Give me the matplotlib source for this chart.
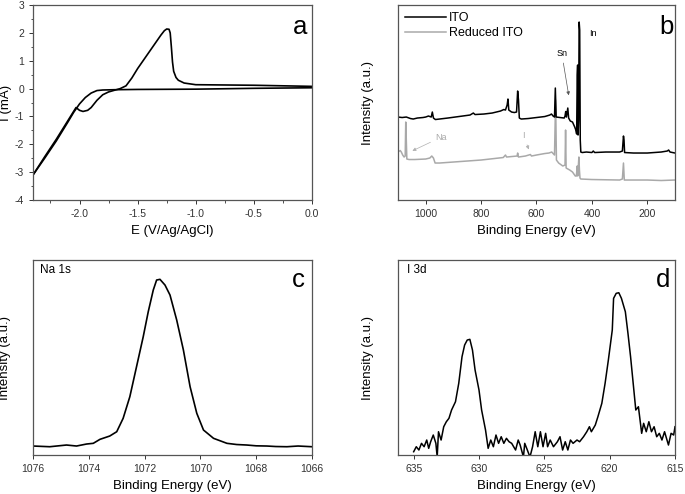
import numpy as np
import matplotlib.pyplot as plt
from matplotlib.ticker import MultipleLocator

plt.rcParams['font.family'] = ['Liberation Sans', 'DejaVu Sans']
plt.rcParams['axes.unicode_minus'] = False

# (a) cyclic voltammogram: cathodic sweep and return sweep
cv_fwd_E = [0.0, -0.5, -1.0, -1.5, -1.7, -1.8, -1.85, -1.9, -1.95, -2.0, -2.05, -2.1, -2.2, -2.3, -2.4]
cv_fwd_I = [0.03, 0.01, -0.02, -0.03, -0.04, -0.05, -0.07, -0.16, -0.32, -0.55, -0.85, -1.2, -1.88, -2.5, -3.1]
cv_ret_E = [-2.4, -2.3, -2.2, -2.1, -2.03, -2.0, -1.97, -1.93, -1.9, -1.85, -1.8, -1.75, -1.7, -1.65,
            -1.6, -1.55, -1.5, -1.45, -1.4, -1.35, -1.3, -1.27, -1.25, -1.23, -1.22, -1.21, -1.2, -1.19,
            -1.17, -1.15, -1.1, -1.0, -0.5, 0.0]
cv_ret_I = [-3.1, -2.45, -1.82, -1.15, -0.68, -0.78, -0.82, -0.78, -0.68, -0.42, -0.22, -0.12, -0.06, 0.0,
            0.1, 0.38, 0.72, 1.02, 1.32, 1.62, 1.92, 2.08, 2.14, 2.13, 2.0, 1.5, 0.95, 0.62,
            0.4, 0.3, 0.2, 0.14, 0.12, 0.08]

# (b) XPS survey spectra
ito_be = [1100, 1085, 1070, 1055, 1045, 1030, 1010, 1000, 990, 980, 976, 972, 965, 950, 920, 880, 840,
          828, 822, 790, 760, 730, 718, 712, 706, 703, 700, 690, 680, 672, 668, 665, 662, 655, 630, 600,
          570, 552, 546, 540, 535, 532, 529, 515, 500, 497, 494.5, 492, 487, 484, 478, 470, 462, 458,
          455, 453, 451.5, 450, 448, 446, 444, 442, 440, 435, 420, 400, 395, 390, 350, 300, 290, 286,
          284, 282, 250, 200, 150, 128, 123, 118, 100]
ito_int = [83, 82.5, 83, 81.5, 81, 82, 82.5, 83, 84, 83, 88, 82, 80.5, 81, 82, 83.5, 85,
           87, 85.5, 86, 87, 89, 90.5, 90, 95, 101, 90, 88, 87.5, 88, 109, 100, 82, 81, 81.5, 82.5,
           83.5, 85, 86, 84, 83, 112, 83, 82.5, 82, 84, 88.5, 83, 92, 82, 79, 78, 73, 70,
           66, 125, 135, 65, 80, 178, 170, 60, 48, 47.5, 48, 47.5, 49, 47.5, 48, 48, 49, 64,
           60, 47.5, 47, 47, 48, 49, 50, 48, 47]
red_be = [1100, 1092, 1088, 1083, 1078, 1074, 1072, 1070, 1068, 1060, 1040, 1000, 985, 978, 972, 966,
          950, 900, 800, 720, 712, 708, 670, 668, 665, 640, 622, 618, 600, 570, 555, 545, 535, 531,
          528, 520, 505, 497, 495, 493, 480, 470, 460, 456, 453, 451, 447, 445, 443, 440, 400, 300,
          290, 286, 283, 200, 150, 100]
red_int = [48, 49.5, 48, 45, 43, 44, 78, 60, 41, 40.5, 40.5, 41, 42, 44, 42, 37,
           37, 38, 40, 42.5, 45, 43, 44, 47, 43, 44, 45.5, 44, 45, 46.5, 47, 48, 45, 100,
           40, 37, 34, 35, 70, 32, 30, 28, 24, 24, 34, 24, 43, 30, 22, 21, 20.5, 20,
           21, 37, 20, 20, 19.5, 20]

# (c) Na 1s
na_be = [1076, 1075.4, 1074.8, 1074.44, 1074.08, 1073.84, 1073.6, 1073.25, 1073.0, 1072.77, 1072.53,
         1072.29, 1072.05, 1071.87, 1071.69, 1071.57, 1071.45, 1071.27, 1071.09, 1070.85, 1070.61,
         1070.37, 1070.13, 1069.89, 1069.53, 1069.05, 1068.7, 1068.34, 1068.0, 1067.62, 1067.3,
         1066.9, 1066.5, 1066]
na_int = [9, 8.3, 10, 9, 11, 11.7, 15.7, 19, 23.3, 36.7, 58.3,
          88.3, 118.3, 143.3, 165, 175, 175.7, 170, 160, 135, 105,
          68.3, 41.7, 25, 16.7, 11.7, 10.5, 10, 9.2, 9, 8.5,
          8.3, 9, 8.3]

# (d) I 3d
i_be = [635.0, 634.8, 634.6, 634.4, 634.2, 634.0, 633.85, 633.7, 633.5, 633.3, 633.2, 633.1, 632.9,
        632.7, 632.5, 632.3, 632.1, 631.8, 631.55, 631.3, 631.1, 630.9, 630.7, 630.5, 630.3, 630.0,
        629.8, 629.5, 629.3, 629.1, 628.9, 628.7, 628.5, 628.3, 628.1, 627.9, 627.7, 627.5, 627.2,
        627.0, 626.85, 626.6, 626.5, 626.3, 626.1, 625.9, 625.7, 625.5, 625.3, 625.1, 624.9, 624.75,
        624.55, 624.3, 624.0, 623.8, 623.6, 623.4, 623.2, 623.0, 622.8, 622.5, 622.3, 622.0, 621.75,
        621.55, 621.4, 621.1, 620.9, 620.6, 620.35, 620.1, 619.8, 619.7, 619.5, 619.3, 619.1, 618.8,
        618.6, 618.4, 618.2, 618.0, 617.8, 617.55, 617.4, 617.2, 617.0, 616.8, 616.6, 616.4, 616.2,
        616.0, 615.8, 615.5, 615.3, 615.1, 615.0]
i_int = [3.3, 8.3, 5, 11.7, 8.3, 15, 6.7, 13.3, 20, 11.7, -2, 23.3, 15,
         28.3, 33.3, 36.7, 45, 53.3, 71.7, 98.3, 110, 115, 115.7, 105, 85, 65,
         45, 25, 6.7, 15, 8.3, 20, 11.7, 18.3, 11.7, 16.7, 13.3, 11.7, 5,
         15, 10, -2, 11.7, 5, -2, 8.3, 23.3, 8.3, 23.3, 8.3, 21.7, 8.3,
         15, 8.3, 13.3, 18.3, 5, 13.3, 5, 15, 11.7, 15, 13.3, 18.3, 23.3,
         28.3, 23.3, 30, 38.3, 51.7, 71.7, 95, 125, 156.7, 161.7, 162.3, 156.7, 143.3,
         121.7, 98.3, 71.7, 45, 48.3, 21.7, 31.7, 23.3, 33.3, 23.3, 28.3, 18.3, 21.7,
         15, 23.3, 10, 21.7, 20, 28.3]

fig = plt.figure(figsize=(6.85, 4.94), dpi=100)
ax_a = fig.add_axes([0.0482, 0.5951, 0.4073, 0.3947])
ax_b = fig.add_axes([0.581, 0.5951, 0.4044, 0.3947])
ax_c = fig.add_axes([0.0482, 0.0789, 0.4073, 0.3947])
ax_d = fig.add_axes([0.581, 0.0789, 0.4044, 0.3947])

for ax in (ax_a, ax_b, ax_c, ax_d):
    for s in ax.spines.values():
        s.set_color('#555555')
        s.set_linewidth(0.9)
    ax.tick_params(labelsize=7.5, direction='out', length=3, width=0.7, colors='#333333')
    ax.tick_params(which='minor', direction='out', length=1.8, width=0.6, colors='#333333')

lab = dict(fontsize=9.5)
letter = dict(fontsize=18.5, ha='center', va='center')

# (a)
ax_a.plot(cv_fwd_E, cv_fwd_I, color='black', lw=1.2)
ax_a.plot(cv_ret_E, cv_ret_I, color='black', lw=1.2)
ax_a.set_xlim(-2.4, 0.0)
ax_a.set_ylim(-4, 3)
ax_a.xaxis.set_major_locator(MultipleLocator(0.5))
ax_a.xaxis.set_minor_locator(MultipleLocator(0.25))
ax_a.yaxis.set_major_locator(MultipleLocator(1))
ax_a.yaxis.set_minor_locator(MultipleLocator(0.5))
ax_a.set_xlabel('E (V/Ag/AgCl)', **lab)
ax_a.set_ylabel('I (mA)', **lab)
ax_a.yaxis.set_label_coords(-0.074, 0.5)
ax_a.text(0.957, 0.885, 'a', transform=ax_a.transAxes, **letter)

# (b)
ax_b.plot(red_be, red_int, color='#a9a9a9', lw=1.1, label='Reduced ITO')
ax_b.plot(ito_be, ito_int, color='black', lw=1.1, label='ITO')
ax_b.set_xlim(1100, 100)
ax_b.set_ylim(0, 195)
ax_b.set_yticks([])
ax_b.xaxis.set_major_locator(MultipleLocator(200))
ax_b.set_xlabel('Binding Energy (eV)', **lab)
ax_b.set_ylabel('Intensity (a.u.)', **lab)
ax_b.yaxis.set_label_coords(-0.085, 0.5)
h, l = ax_b.get_legend_handles_labels()
ax_b.legend(h[::-1], l[::-1], loc='upper left', frameon=False, fontsize=9,
            handlelength=3.3, handletextpad=0.2, borderaxespad=0.15, labelspacing=0.25)
arrow = dict(arrowstyle='-|>', lw=0.5, mutation_scale=5)
ax_b.annotate('Sn', xy=(482, 102), xytext=(509, 147), fontsize=6.5, ha='center', va='center',
              arrowprops=dict(color='#555555', **arrow))
ax_b.text(396, 167, 'In', fontsize=6.5, ha='center', va='center')
ax_b.annotate('Na', xy=(1057, 48), xytext=(943, 63), fontsize=6.5, ha='center', va='center',
              color='#a9a9a9', arrowprops=dict(color='#b0b0b0', **arrow))
ax_b.annotate('I', xy=(624, 48), xytext=(648, 65), fontsize=6.5, ha='center', va='center',
              color='#a9a9a9', arrowprops=dict(color='#b0b0b0', **arrow))
ax_b.text(0.97, 0.889, 'b', transform=ax_b.transAxes, **letter)

# (c)
ax_c.plot(na_be, na_int, color='black', lw=1.2)
ax_c.set_xlim(1076, 1066)
ax_c.set_ylim(0, 195)
ax_c.set_yticks([])
ax_c.xaxis.set_major_locator(MultipleLocator(2))
ax_c.set_xlabel('Binding Energy (eV)', **lab)
ax_c.set_ylabel('Intensity (a.u.)', **lab)
ax_c.yaxis.set_label_coords(-0.078, 0.5)
ax_c.text(0.024, 0.949, 'Na 1s', transform=ax_c.transAxes, fontsize=8.5, ha='left', va='center')
ax_c.text(0.952, 0.897, 'c', transform=ax_c.transAxes, **letter)

# (d)
ax_d.plot(i_be, i_int, color='black', lw=1.1)
ax_d.set_xlim(636.2, 615)
ax_d.set_ylim(0, 195)
ax_d.set_yticks([])
ax_d.xaxis.set_major_locator(MultipleLocator(5))
ax_d.set_xlabel('Binding Energy (eV)', **lab)
ax_d.set_ylabel('Intensity (a.u.)', **lab)
ax_d.yaxis.set_label_coords(-0.085, 0.5)
ax_d.text(0.032, 0.949, 'I 3d', transform=ax_d.transAxes, fontsize=8.5, ha='left', va='center')
ax_d.text(0.958, 0.897, 'd', transform=ax_d.transAxes, **letter)

fig.savefig('out.png', dpi=100)
